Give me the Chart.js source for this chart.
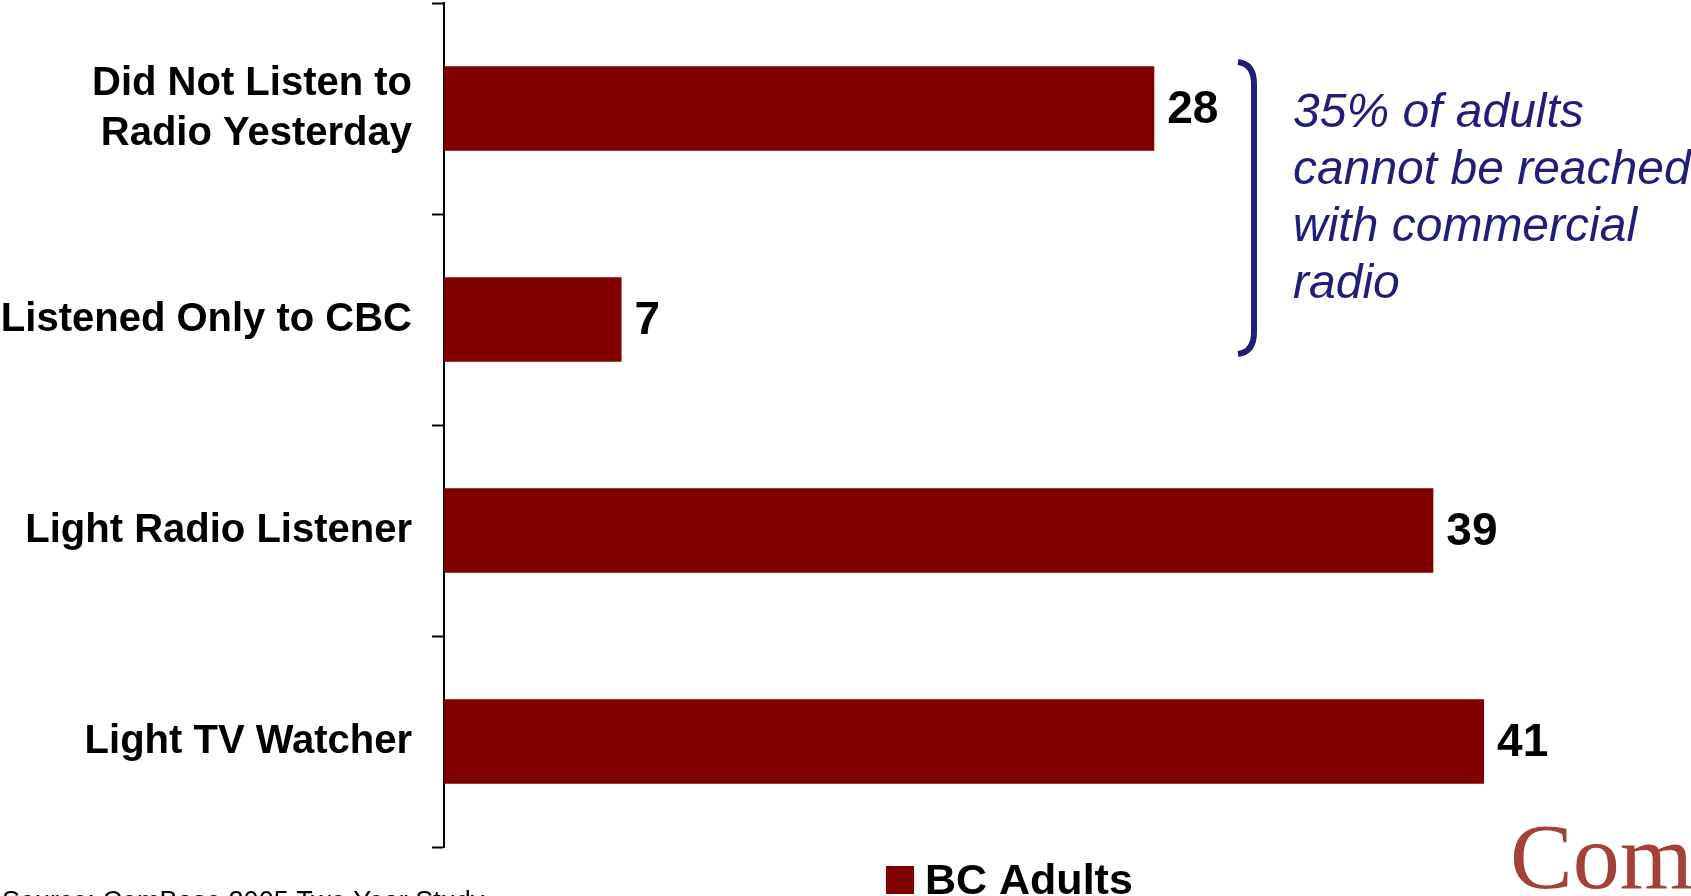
<!DOCTYPE html>
<html>
<head>
<meta charset="utf-8">
<script src="https://cdn.jsdelivr.net/npm/chart.js@4/dist/chart.umd.min.js"></script>
<style>
  html, body { margin: 0; padding: 0; background: #fff; }
  #wrap { width: 1691px; height: 896px; position: relative; }
</style>
</head>
<body>
<div id="wrap"><canvas id="myChart"></canvas></div>
<script>
// chart data
const categories = [['Did Not Listen to', 'Radio Yesterday'], 'Listened Only to CBC', 'Light Radio Listener', 'Light TV Watcher'];
const values = [28, 7, 39, 41];
const seriesName = 'BC Adults';
const noteLines = ['35% of adults', 'cannot be reached', 'with commercial', 'radio'];
const sourceText = 'Source: ComBase 2005 Two Year Study';
const logoText = 'Com';

const barColor = '#800000';
const navy = '#1f1f78';
const sans = "'Liberation Sans', Arial, sans-serif";

// value labels at the end of each bar
const valueLabels = {
    id: 'valueLabels',
    afterDatasetsDraw(chart) {
        const ctx = chart.ctx;
        const meta = chart.getDatasetMeta(0);
        ctx.save();
        ctx.font = 'bold 46px ' + sans;
        ctx.fillStyle = '#000';
        ctx.textBaseline = 'middle';
        ctx.textAlign = 'left';
        meta.data.forEach((bar, i) => {
            ctx.fillText(String(values[i]), bar.x + 13, bar.y + 2);
        });
        ctx.restore();
    }
};

// bracket note, legend, source line and logo
const extras = {
    id: 'extras',
    afterDraw(chart) {
        const ctx = chart.ctx;
        ctx.save();

        // bracket
        ctx.strokeStyle = navy;
        ctx.lineWidth = 6;
        ctx.beginPath();
        ctx.moveTo(1238, 62);
        ctx.quadraticCurveTo(1254, 64, 1254, 84);
        ctx.lineTo(1254, 332);
        ctx.quadraticCurveTo(1254, 352, 1238, 354);
        ctx.stroke();

        // note text
        ctx.fillStyle = navy;
        ctx.font = 'italic 48px ' + sans;
        ctx.textBaseline = 'alphabetic';
        noteLines.forEach((t, i) => ctx.fillText(t, 1293, 127 + 57 * i));

        // legend
        ctx.fillStyle = barColor;
        ctx.fillRect(886, 866, 28, 28);
        ctx.fillStyle = '#000';
        ctx.font = 'bold 43px ' + sans;
        ctx.fillText(seriesName, 925, 894);

        // source (cut by the bottom edge)
        ctx.font = '27px ' + sans;
        ctx.fillText(sourceText, 2, 910);

        // logo
        ctx.fillStyle = '#a3403a';
        ctx.font = "94px 'Liberation Serif', 'Times New Roman', serif";
        ctx.fillText(logoText, 1510, 888);

        ctx.restore();
    }
};

const ctx = document.getElementById('myChart').getContext('2d');
const myChart = new Chart(ctx, {
    type: 'bar',
    data: {
        labels: categories,
        datasets: [{
            label: seriesName,
            data: values,
            backgroundColor: barColor,
            borderWidth: 0,
            barPercentage: 0.4,
            categoryPercentage: 1
        }]
    },
    options: {
        indexAxis: 'y',
        responsive: true,
        maintainAspectRatio: false,
        animation: false,
        layout: { padding: { top: 3, right: 4, bottom: 49, left: 0 } },
        plugins: {
            legend: { display: false },
            tooltip: { enabled: false }
        },
        scales: {
            x: {
                display: false,
                min: 0,
                max: 49
            },
            y: {
                afterFit(scale) {
                    scale.width = 444;
                    scale.paddingTop = 0;
                    scale.paddingBottom = 0;
                },
                grid: {
                    drawOnChartArea: false,
                    drawTicks: true,
                    tickLength: 12,
                    tickWidth: 2,
                    tickColor: '#000',
                    offset: true
                },
                border: { display: true, color: '#000', width: 2 },
                ticks: {
                    color: '#000',
                    padding: 20,
                    font: { family: sans, size: 40, weight: 'bold', lineHeight: 1.25 }
                }
            }
        }
    },
    plugins: [valueLabels, extras]
});
</script>
</body>
</html>
